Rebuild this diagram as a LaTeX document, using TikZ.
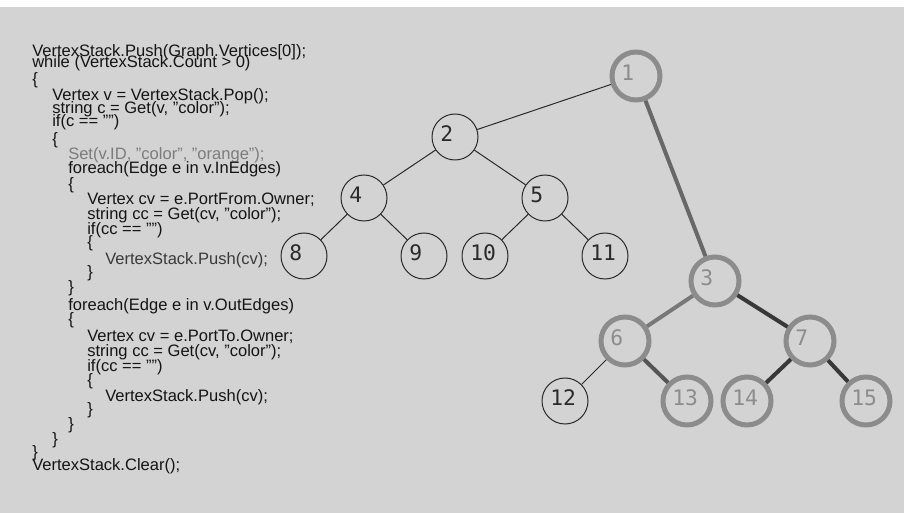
\documentclass[tikz,border=0pt]{standalone}
\usepackage{fontspec}
\setmainfont{Liberation Sans}
\newfontfamily\numfont{DejaVu Sans Mono}
\definecolor{bg}{HTML}{D3D3D3}
\definecolor{codeblack}{HTML}{141414}
\definecolor{codegray}{HTML}{7C7C7C}
\definecolor{codedark}{HTML}{3A3A3A}
\definecolor{ringc}{HTML}{8C8C8C}
\definecolor{thinc}{HTML}{2A2A2A}
\definecolor{edgeA}{HTML}{686868}
\definecolor{edgeB}{HTML}{787878}
\definecolor{edgeC}{HTML}{383838}
\definecolor{edgeD}{HTML}{555555}
\begin{document}
\begin{tikzpicture}[x=0.75pt,y=-0.75pt,
  code/.style={anchor=base west, inner sep=0pt, font=\fontsize{12.4}{12.4}\selectfont, text=codeblack},
  thinv/.style={circle, draw=thinc, line width=0.75pt, minimum size=34.5pt, inner sep=0pt},
  ringv/.style={circle, draw=ringc, line width=3.75pt, minimum size=36pt, inner sep=0pt},
  numlbl/.style={anchor=west, inner sep=0pt, font=\numfont\fontsize{16}{16}\selectfont, xshift=-11.25pt, yshift=2.5pt},
  thinlbl/.style={numlbl, text=thinc},
  ringlbl/.style={numlbl, text=ringc},
  thinedge/.style={draw=thinc, line width=0.75pt},
  thickedge/.style={line width=3pt}
]
\useasboundingbox (0,0) rectangle (904,513);
\fill[white] (0,0) rectangle (904,513);
\fill[bg] (0,7) rectangle (904,513);

% code
\node[code] (c1) at (32,57) {VertexStack.Push(Graph.Vertices[0]);};
\node[code] (c2) at (32,68) {while (VertexStack.Count > 0)};
\node[code] (c3) at (32,85) {\{};
\node[code] (c4) at (52,101) {Vertex v = VertexStack.Pop();};
\node[code] (c5) at (52,114) {string c = Get(v, "color");};
\node[code] (c6) at (52,127) {if(c == "")};
\node[code] (c7) at (52,145) {\{};
\node[code, text=codegray] (c8) at (68,160) {Set(v.ID, "color", "orange");};
\node[code] (c9) at (68,174) {foreach(Edge e in v.InEdges)};
\node[code] (c10) at (68,190) {\{};
\node[code] (c11) at (87,205) {Vertex cv = e.PortFrom.Owner;};
\node[code] (c12) at (87,220) {string cc = Get(cv, "color");};
\node[code] (c13) at (87,235) {if(cc == "")};
\node[code] (c14) at (87,248) {\{};
\node[code, text=codedark] (c15) at (105,265) {VertexStack.Push(cv);};
\node[code] (c16) at (87,278) {\}};
\node[code] (c17) at (68,293) {\}};
\node[code] (c18) at (68,311) {foreach(Edge e in v.OutEdges)};
\node[code] (c19) at (68,325) {\{};
\node[code] (c20) at (87,342) {Vertex cv = e.PortTo.Owner;};
\node[code] (c21) at (87,357) {string cc = Get(cv, "color");};
\node[code] (c22) at (87,372) {if(cc == "")};
\node[code] (c23) at (87,386) {\{};
\node[code] (c24) at (105,402) {VertexStack.Push(cv);};
\node[code] (c25) at (87,415) {\}};
\node[code] (c26) at (68,430) {\}};
\node[code] (c27) at (52,445) {\}};
\node[code] (c28) at (32,458) {\}};
\node[code] (c29) at (32,470) {VertexStack.Clear();};

% vertices
\node[ringv] (n1) at (636,76) {};
\node[thinv] (n2) at (455,137) {};
\node[ringv] (n3) at (715,281) {};
\node[thinv] (n4) at (364,198) {};
\node[thinv] (n5) at (545,198) {};
\node[ringv] (n6) at (625,341) {};
\node[ringv] (n7) at (810,341) {};
\node[thinv] (n8) at (304,256) {};
\node[thinv] (n9) at (424,256) {};
\node[thinv] (n10) at (485,256) {};
\node[thinv] (n11) at (605,256) {};
\node[thinv] (n12) at (565,401) {};
\node[ringv] (n13) at (687,401) {};
\node[ringv] (n14) at (747,401) {};
\node[ringv] (n15) at (866,401) {};

% edges
\draw[thinedge] (n1) -- (n2);
\draw[thinedge] (n2) -- (n4);
\draw[thinedge] (n2) -- (n5);
\draw[thinedge] (n4) -- (n8);
\draw[thinedge] (n4) -- (n9);
\draw[thinedge] (n5) -- (n10);
\draw[thinedge] (n5) -- (n11);
\draw[thinedge] (n6) -- (n12);
\draw[thickedge, draw=edgeA] (n1) -- (n3);
\draw[thickedge, draw=edgeB] (n3) -- (n6);
\draw[thickedge, draw=edgeC] (n3) -- (n7);
\draw[thickedge, draw=edgeD] (n6) -- (n13);
\draw[thickedge, draw=edgeC] (n7) -- (n14);
\draw[thickedge, draw=edgeC] (n7) -- (n15);

% labels
\node[ringlbl] (t1) at (n1.center) {1};
\node[thinlbl] (t2) at (n2.center) {2};
\node[ringlbl] (t3) at (n3.center) {3};
\node[thinlbl] (t4) at (n4.center) {4};
\node[thinlbl] (t5) at (n5.center) {5};
\node[ringlbl] (t6) at (n6.center) {6};
\node[ringlbl] (t7) at (n7.center) {7};
\node[thinlbl] (t8) at (n8.center) {8};
\node[thinlbl] (t9) at (n9.center) {9};
\node[thinlbl] (t10) at (n10.center) {10};
\node[thinlbl] (t11) at (n11.center) {11};
\node[thinlbl] (t12) at (n12.center) {12};
\node[ringlbl] (t13) at (n13.center) {13};
\node[ringlbl] (t14) at (n14.center) {14};
\node[ringlbl] (t15) at (n15.center) {15};
\end{tikzpicture}
\end{document}
